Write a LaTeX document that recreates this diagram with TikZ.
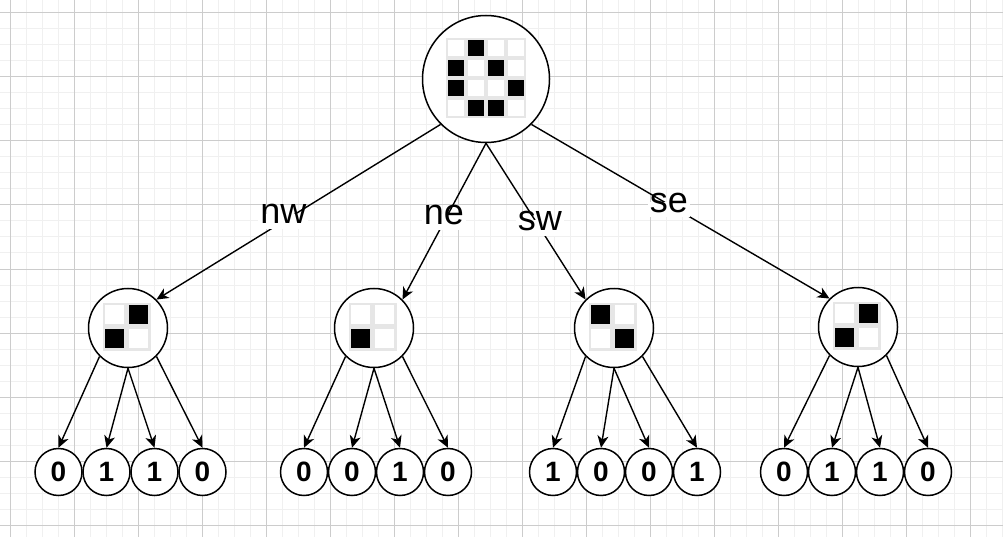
\documentclass[tikz,border=0pt]{standalone}
\usepackage{fontspec}
\setmainfont{Liberation Sans}
\usetikzlibrary{arrows.meta}
\definecolor{minorgrid}{HTML}{F0F0F0}
\definecolor{majorgrid}{HTML}{CCCCCC}
\definecolor{cellline}{HTML}{E6E6E6}
\newcommand\pxcell[5]{%
  \fill[cellline] (#1,#2) rectangle ++(#3,#3);
  \fill[#5] ({#1+#4},{#2+#4}) rectangle ++({#3-2*#4},{#3-2*#4});}
\begin{document}
\begin{tikzpicture}[x=1pt,y=-1pt,
  circ/.style={circle,draw,line width=1.5pt,fill=white,inner sep=0pt},
  rootnode/.style={circ,minimum size=127pt},
  childnode/.style={circ,minimum size=79pt},
  leaf/.style={circ,minimum size=47pt,font=\fontsize{28}{30}\selectfont\bfseries},
  arr/.style={line width=1.4pt,-{Stealth[length=12pt,width=11pt,inset=3.5pt]}},
  lbl/.style={fill=white,inner xsep=2pt,inner ysep=3pt,text height=0.72em,text depth=0.2em,font=\fontsize{36}{40}\selectfont}]
\useasboundingbox (0,0) rectangle (1003,537);
\fill[white] (0,0) rectangle (1003,537);
% grid
\foreach \x in {10,26,...,1002} \draw[minorgrid,line width=1pt] (\x,0) -- (\x,537);
\foreach \y in {13,29,...,535} \draw[minorgrid,line width=1pt] (0,\y) -- (1003,\y);
\foreach \x in {10,74,...,1002} \draw[majorgrid,line width=1pt] (\x,0) -- (\x,537);
\foreach \y in {13,77,...,535} \draw[majorgrid,line width=1pt] (0,\y) -- (1003,\y);
% nodes
\node[rootnode] (root) at (486,79) {};
\node[childnode] (nw) at (128,328) {};
\node[childnode] (ne) at (374,328) {};
\node[childnode] (sw) at (614,328) {};
\node[childnode] (se) at (858,327) {};
% leaves
\node[leaf] (nw1) at (58.5,472) {0};
\node[leaf] (nw2) at (106.5,472) {1};
\node[leaf] (nw3) at (154.5,472) {1};
\node[leaf] (nw4) at (202.5,472) {0};
\node[leaf] (ne1) at (304,472) {0};
\node[leaf] (ne2) at (352,472) {0};
\node[leaf] (ne3) at (400,472) {1};
\node[leaf] (ne4) at (448,472) {0};
\node[leaf] (sw1) at (553,472) {1};
\node[leaf] (sw2) at (601,472) {0};
\node[leaf] (sw3) at (649,472) {0};
\node[leaf] (sw4) at (697,472) {1};
\node[leaf] (se1) at (784,472) {0};
\node[leaf] (se2) at (832,472) {1};
\node[leaf] (se3) at (880,472) {1};
\node[leaf] (se4) at (928,472) {0};
% root image 4x4
\foreach \c/\r/\k in {0/0/white,1/0/black,2/0/white,3/0/white,
                      0/1/black,1/1/white,2/1/black,3/1/white,
                      0/2/black,1/2/white,2/2/white,3/2/black,
                      0/3/white,1/3/black,2/3/black,3/3/white}
  {\pxcell{446+20*\c}{38+20*\r}{20}{2}{\k}}
% child images 2x2
\foreach \c/\r/\k in {0/0/white,1/0/black,0/1/black,1/1/white}
  {\pxcell{102.5+24*\c}{302.5+24*\r}{24}{2.5}{\k}}
\foreach \c/\r/\k in {0/0/white,1/0/white,0/1/black,1/1/white}
  {\pxcell{348.5+24*\c}{302.5+24*\r}{24}{2.5}{\k}}
\foreach \c/\r/\k in {0/0/black,1/0/white,0/1/white,1/1/black}
  {\pxcell{588.5+24*\c}{302.5+24*\r}{24}{2.5}{\k}}
\foreach \c/\r/\k in {0/0/white,1/0/black,0/1/black,1/1/white}
  {\pxcell{832.5+24*\c}{301.5+24*\r}{24}{2.5}{\k}}
% root edges
\draw[arr] (root.south west) -- node[lbl,pos=0.553] {nw} (nw.north east);
\draw[arr] (root.south) -- node[lbl,pos=0.504] {ne} (ne.north east);
\draw[arr] (root.south) -- node[lbl,pos=0.542] {sw} (sw.north west);
\draw[arr] (root.south east) -- node[lbl,pos=0.461,yshift=-5pt] {se} (se.north west);
% leaf edges
\foreach \p in {nw,ne,sw,se}{
  \draw[arr] (\p.south west) -- (\p1.north);
  \draw[arr] (\p.south) -- (\p2.north);
  \draw[arr] (\p.south) -- (\p3.north);
  \draw[arr] (\p.south east) -- (\p4.north);
}
\end{tikzpicture}
\end{document}
